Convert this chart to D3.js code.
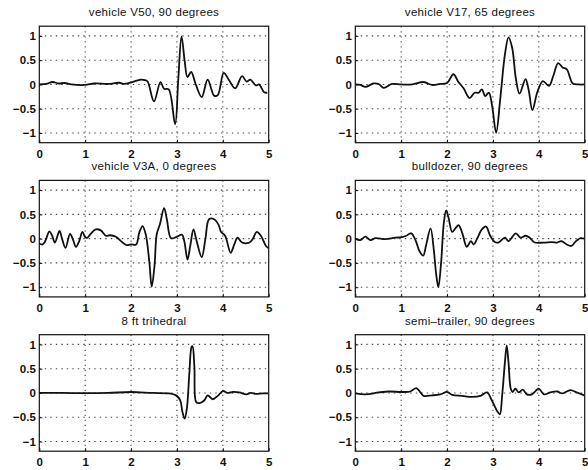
<!DOCTYPE html>
<html>
<head>
<meta charset="utf-8">
<script src="https://cdn.jsdelivr.net/npm/d3@7/dist/d3.min.js"></script>
<style>
  body { margin: 0; background: #fff; }
  svg text { font-family: "Liberation Sans", Arial, Helvetica, sans-serif; fill: #111; }
</style>
</head>
<body>
<svg id="chart" width="588" height="470"></svg>
<script>
// tick values shared by all six panels
var xTicks = [0, 1, 2, 3, 4, 5];
var yTicks = [-1, -0.5, 0, 0.5, 1];

var titles = [
    "vehicle V50, 90 degrees", "vehicle V17, 65 degrees",
    "vehicle V3A, 0 degrees", "bulldozer, 90 degrees",
    "8 ft trihedral", "semi\u2013trailer, 90 degrees"
];

// waveforms as [time, amplitude]
var v50 = [[0,0],[0.15,0.01],[0.29,0.05],[0.42,0.02],[0.55,0.03],[0.7,0],[1.0,-0.01],[1.2,0.02],[1.5,0.01],
    [1.74,0.035],[1.85,0.01],[2.03,0.05],[2.21,0.1],[2.3,0.09],[2.36,0.06],[2.5,-0.35],[2.64,0.05],[2.72,-0.09],
    [2.82,-0.1],[2.96,-0.82],[3.03,0.12],[3.1,0.99],[3.17,0.47],[3.23,0.15],[3.31,0.26],[3.41,0],[3.54,-0.26],
    [3.67,0.1],[3.81,-0.23],[3.89,-0.22],[4.02,0.24],[4.14,0.08],[4.27,-0.08],[4.42,0.17],[4.52,0.06],[4.6,0.1],
    [4.72,-0.02],[4.79,0],[4.9,-0.16],[4.97,-0.17]];

var v17 = [[0,0],[0.11,-0.01],[0.22,-0.05],[0.4,0.02],[0.51,0.01],[0.62,-0.07],[0.8,0.01],[1.0,0],[1.24,0],
    [1.49,0.05],[1.67,-0.01],[1.85,0.01],[2.0,0.03],[2.14,0.21],[2.24,0.06],[2.36,-0.08],[2.49,-0.28],[2.6,-0.17],
    [2.69,-0.17],[2.76,-0.1],[2.83,-0.24],[2.91,-0.17],[2.98,-0.43],[3.07,-0.99],[3.16,-0.29],[3.26,0.61],
    [3.34,0.97],[3.42,0.75],[3.5,0.12],[3.58,-0.19],[3.71,0.11],[3.78,-0.12],[3.86,-0.53],[3.97,-0.15],[4.09,0.07],
    [4.22,-0.03],[4.32,0.19],[4.42,0.44],[4.52,0.35],[4.61,0.31],[4.74,0.02],[4.87,0],[4.99,0]];

var v3a = [[0,-0.1],[0.07,-0.12],[0.13,-0.05],[0.22,0.15],[0.28,0.06],[0.34,-0.08],[0.44,0.16],[0.49,0.02],
    [0.57,-0.19],[0.67,0.1],[0.73,-0.01],[0.8,-0.17],[0.87,-0.05],[0.94,0.14],[1.0,0.03],[1.05,0.02],[1.13,0.11],
    [1.23,0.19],[1.34,0.17],[1.45,0.06],[1.54,0.07],[1.67,0.04],[1.78,-0.05],[1.89,-0.13],[2.0,-0.12],[2.11,-0.12],
    [2.18,0.13],[2.25,0.26],[2.32,0.09],[2.4,-0.5],[2.45,-0.99],[2.51,-0.57],[2.56,0.09],[2.63,0.3],[2.72,0.63],
    [2.78,0.4],[2.87,0.01],[2.98,0.03],[3.11,0.08],[3.16,-0.05],[3.23,-0.43],[3.29,-0.15],[3.36,0.19],[3.43,-0.05],
    [3.54,-0.38],[3.62,-0.01],[3.7,0.4],[3.81,0.4],[3.91,0.28],[3.96,0.14],[4.05,0.06],[4.17,-0.29],[4.25,-0.12],
    [4.32,0.02],[4.42,-0.08],[4.58,-0.08],[4.65,-0.01],[4.74,0.14],[4.83,0.06],[4.94,-0.15],[4.99,-0.19]];

var dozer = [[0,0],[0.11,-0.03],[0.22,0.04],[0.33,-0.03],[0.44,0.01],[0.65,-0.01],[0.87,0.02],[1.02,0.03],
    [1.11,0.06],[1.22,0.11],[1.32,-0.05],[1.4,-0.26],[1.48,-0.35],[1.54,-0.15],[1.64,0.21],[1.71,-0.22],
    [1.76,-0.71],[1.81,-1.0],[1.87,-0.5],[1.93,0.33],[1.98,0.58],[2.03,0.44],[2.11,0.14],[2.18,0.21],[2.25,0.28],
    [2.33,0.12],[2.43,-0.17],[2.52,-0.05],[2.58,-0.12],[2.65,-0.01],[2.76,0.19],[2.85,0.25],[2.94,0.06],[3.04,-0.07],
    [3.12,-0.08],[3.26,0.02],[3.34,-0.05],[3.5,0.11],[3.6,0.02],[3.71,0.06],[3.8,0.02],[3.91,-0.08],[4.11,-0.08],
    [4.29,-0.07],[4.4,-0.08],[4.49,-0.05],[4.61,-0.12],[4.71,-0.15],[4.81,-0.05],[4.91,0.01],[4.99,0]];

var trihedral = [[0,0],[0.5,0],[1.0,-0.005],[1.5,0],[2.0,0.02],[2.47,0],[2.83,-0.01],[2.98,-0.05],[3.07,-0.15],
    [3.12,-0.39],[3.17,-0.53],[3.22,-0.29],[3.27,0.4],[3.32,0.95],[3.34,0.96],[3.38,0.54],[3.42,-0.19],[3.49,-0.21],
    [3.6,-0.15],[3.67,-0.05],[3.78,-0.13],[3.89,-0.06],[4.0,0.04],[4.11,0],[4.22,0.02],[4.36,0.01],[4.51,-0.03],
    [4.61,0],[4.72,-0.02],[4.87,-0.01],[4.99,-0.01]];

var trailer = [[0,-0.01],[0.22,-0.03],[0.51,0.01],[0.73,0.03],[1.02,0.02],[1.2,0.03],[1.33,0.1],[1.42,0.01],
    [1.49,-0.06],[1.67,-0.05],[1.85,-0.03],[2.0,0.02],[2.11,-0.04],[2.33,-0.06],[2.54,-0.08],[2.73,-0.06],
    [2.87,0.01],[2.98,-0.16],[3.09,-0.37],[3.15,-0.44],[3.2,-0.06],[3.26,0.62],[3.3,0.98],[3.34,0.62],[3.39,0.08],
    [3.43,0.02],[3.49,0.09],[3.56,0.01],[3.65,0.07],[3.74,-0.03],[3.85,-0.03],[4.0,0.09],[4.11,-0.03],[4.25,0.01],
    [4.4,0.03],[4.51,-0.01],[4.69,0.06],[4.83,0.01],[4.99,-0.05]];

var series = [v50, v17, v3a, dozer, trihedral, trailer];

// panel layout
var colLeft = [39.3, 355.3];
var plotW = 229.4;
var rowTop = [26.2, 180.4, 334.7];
var plotH = 116.5;

var svg = d3.select("#chart");

series.forEach(function(data, i) {
    var left = colLeft[i % 2];
    var top = rowTop[Math.floor(i / 2)];

    var x = d3.scaleLinear().domain([0, 5]).range([left, left + plotW]);
    var y = d3.scaleLinear().domain([-1.2, 1.2]).range([top + plotH, top]);

    var g = svg.append("g");

    // dotted grid
    g.selectAll(".vgrid")
        .data(xTicks.slice(1, -1))
        .enter().append("line")
        .attr("x1", function(d) { return x(d); })
        .attr("x2", function(d) { return x(d); })
        .attr("y1", top)
        .attr("y2", top + plotH)
        .style("stroke", "#444")
        .style("stroke-width", 1.1)
        .style("stroke-dasharray", "1.4,3.6");

    g.selectAll(".hgrid")
        .data(yTicks)
        .enter().append("line")
        .attr("x1", left)
        .attr("x2", left + plotW)
        .attr("y1", function(d) { return y(d); })
        .attr("y2", function(d) { return y(d); })
        .style("stroke", "#444")
        .style("stroke-width", 1.1)
        .style("stroke-dasharray", "1.4,4.1");

    // axes with short inward ticks
    var xAxis = g.append("g")
        .attr("transform", "translate(0," + (top + plotH) + ")")
        .call(d3.axisBottom(x).tickValues(xTicks).tickSize(-3).tickPadding(7)
            .tickFormat(function(d) { return String(d); }));

    var yAxis = g.append("g")
        .attr("transform", "translate(" + left + ",0)")
        .call(d3.axisLeft(y).tickValues(yTicks).tickSize(-3).tickPadding(3.5)
            .tickFormat(function(d) { return String(d).replace("-", "\u2212"); }));

    [xAxis, yAxis].forEach(function(ax) {
        ax.select(".domain").remove();
        ax.selectAll(".tick line").style("stroke", "#111");
        ax.selectAll("text")
            .style("font-size", "11.5px")
            .style("font-weight", "bold")
            .style("fill", "#111");
    });

    // frame
    g.append("rect")
        .attr("x", left)
        .attr("y", top)
        .attr("width", plotW)
        .attr("height", plotH)
        .style("fill", "none")
        .style("stroke", "#111")
        .style("stroke-width", 1.2);

    // signal
    var line = d3.line()
        .x(function(d) { return x(d[0]); })
        .y(function(d) { return y(d[1]); })
        .curve(d3.curveCatmullRom.alpha(0.5));

    g.append("path")
        .datum(data)
        .attr("d", line)
        .style("fill", "none")
        .style("stroke", "#111")
        .style("stroke-width", 1.8)
        .style("stroke-linejoin", "round");

    // title
    g.append("text")
        .attr("x", left + plotW / 2)
        .attr("y", top - 10)
        .attr("text-anchor", "middle")
        .style("font-size", "11.5px")
        .style("letter-spacing", "0.3px")
        .text(titles[i]);
});
</script>
</body>
</html>
